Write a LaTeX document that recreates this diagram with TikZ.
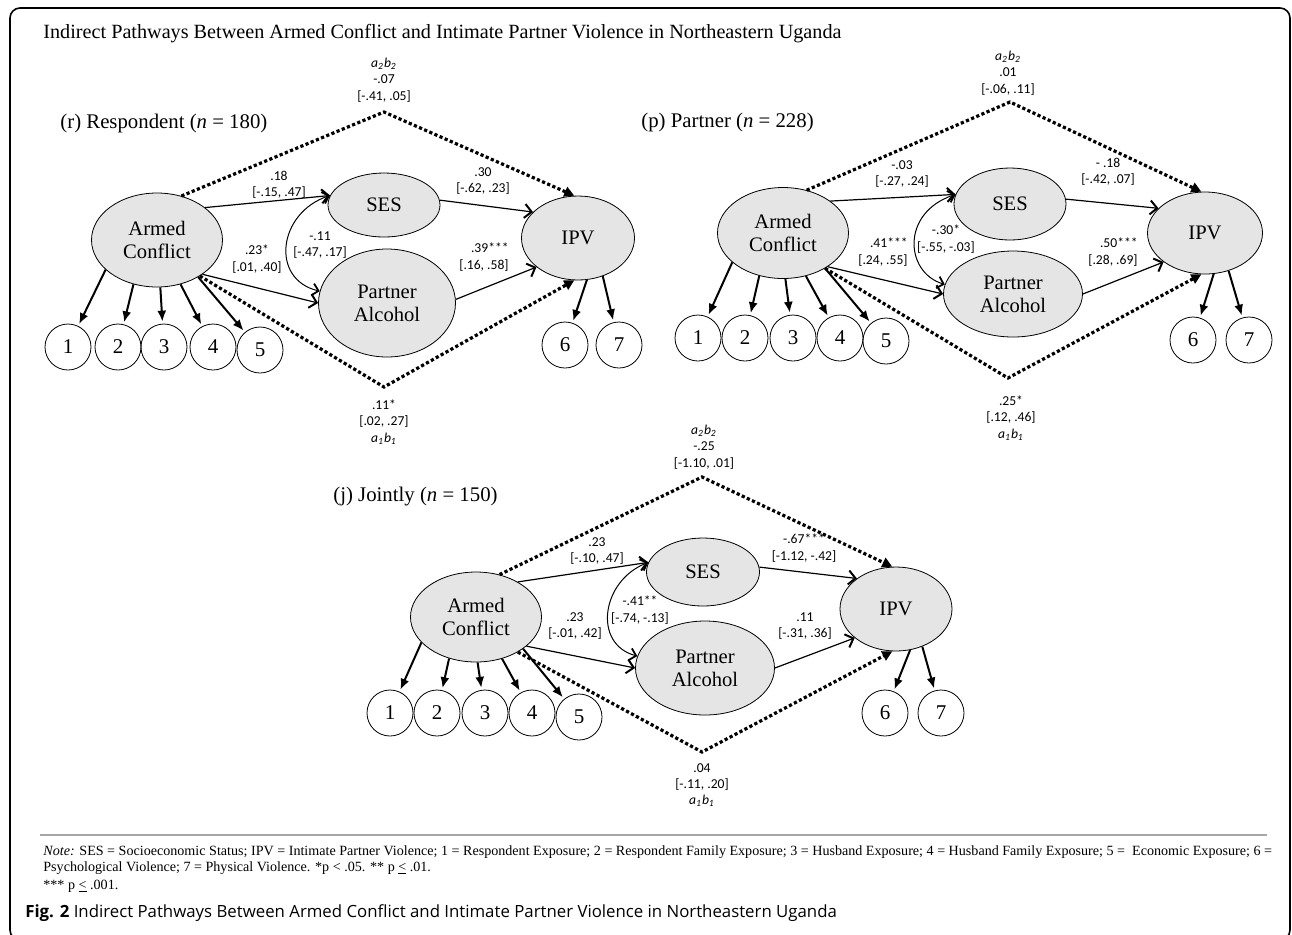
\documentclass[tikz,border=0pt]{standalone}
\usepackage{fontspec}
\setmainfont{Liberation Serif}
\newfontfamily\lblfont{Carlito}
\newfontfamily\capfont{Open Sans}
\usetikzlibrary{shapes.geometric,arrows.meta}

\begin{document}
\begin{tikzpicture}[x=0.5pt, y=-0.5pt, >={Latex},
  latent/.style={ellipse, draw, fill=gray!20, inner sep=0pt, align=center, font=\fontsize{10.3}{11.5}\selectfont},
  ind/.style={circle, draw, inner sep=0pt, minimum size=23pt, font=\fontsize{10.5}{12}\selectfont},
  lbl/.style={font=\lblfont\fontsize{6.8}{8.2}\selectfont, align=center, inner sep=0pt},
  ptitle/.style={font=\fontsize{10.4}{12}\selectfont, inner sep=0pt},
  effect/.style={line width=0.6pt, -{Straight Barb[length=3.5pt,width=7pt,line width=1pt]}},
  covar/.style={line width=0.5pt, {Straight Barb[length=3pt,width=6pt,line width=0.9pt]}-{Straight Barb[length=3pt,width=6pt,line width=0.9pt]}},
  load/.style={line width=1pt, -{Latex[length=5.5pt,width=4.5pt]}, shorten >=1pt},
  indirect/.style={line width=1.6pt, dash pattern=on 1.6pt off 1.2pt, -{Triangle[length=5pt,width=5pt]}}]
  \useasboundingbox (0,0) rectangle (1292,934);

  % Frame and heading
  \draw[line width=0.8pt, rounded corners=5pt] (10,8) rectangle (1290,940);
  \node[anchor=base west, inner sep=0pt, font=\fontsize{10.1}{12}\selectfont] (title) at (43,38)
    {Indirect Pathways Between Armed Conflict and Intimate Partner Violence in Northeastern Uganda};

  % (r) Respondent
  \node[ptitle, anchor=base west] (rTitle) at (60,128) {(r) Respondent (\textit{n} = 180)};
  \node[latent, minimum width=65.5pt, minimum height=47pt] (rAC) at (157,240) {Armed\\Conflict};
  \node[latent, minimum width=56pt, minimum height=32pt] (rSES) at (384,205) {SES};
  \node[latent, minimum width=68.5pt, minimum height=54pt] (rPA) at (387,303) {Partner\\Alcohol};
  \node[latent, minimum width=56.5pt, minimum height=42pt] (rIPV) at (578,238) {IPV};
  \foreach \i/\x in {1/68,2/118,3/164,4/213}
    \node[ind] (r\i) at (\x,347) {\i};
  \node[ind] (r5) at (260,350) {5};
  \node[ind] (r6) at (565,345) {6};
  \node[ind] (r7) at (619,345) {7};
  \coordinate (rTop) at (384,112);
  \coordinate (rBot) at (384,387);

  \draw[indirect] (rAC.61) -- (rTop) -- (rIPV.95);
  \draw[indirect] (rAC.-40) -- (rBot) -- (rIPV.-95);
  \draw[effect] (rAC.34) -- (rSES.170);
  \draw[effect] (rAC.-37) -- (rPA.west);
  \draw[effect] (rSES.5) -- (rIPV.150);
  \draw[effect] (rPA.3) -- (rIPV.-145);
  \draw[covar] (rSES.170) .. controls +(-52,17) and +(-50,-12) .. (rPA.170);
  \foreach \i/\a in {1/-150,2/-118,3/-86,4/-62,5/-42}
    \draw[load] (rAC.\a) -- (r\i);
  \draw[load] (rIPV.-78) -- (r6);
  \draw[load] (rIPV.-57) -- (r7);

  \node[lbl] (rTopLbl) at (384,80) {\textit{a\textsubscript{2}b\textsubscript{2}}\\-.07\\{}[-.41, .05]};
  \node[lbl] (rBotLbl) at (384,422) {.11*\\{}[.02, .27]\\\textit{a\textsubscript{1}b\textsubscript{1}}};
  \node[lbl] (rLa1) at (279,185) {.18\\{}[-.15, .47]};
  \node[lbl] (rLb1) at (483,181) {.30\\{}[-.62, .23]};
  \node[lbl] (rLa2) at (257,259) {.23*\\{}[.01, .40]};
  \node[lbl] (rCov) at (320,245) {-.11\\{}[-.47, .17]};
  \node[lbl, align=right, anchor=east] (rLb2) at (509,257) {.39***\\{}[.16, .58]};

  % (p) Partner
  \node[ptitle, anchor=base west] (pTitle) at (641,127) {(p) Partner (\textit{n} = 228)};
  \node[latent, minimum width=65.5pt, minimum height=45.5pt] (pAC) at (783,233) {Armed\\Conflict};
  \node[latent, minimum width=56pt, minimum height=36pt] (pSES) at (1010,204) {SES};
  \node[latent, minimum width=69.5pt, minimum height=43pt] (pPA) at (1013,294) {Partner\\Alcohol};
  \node[latent, minimum width=57.5pt, minimum height=41pt] (pIPV) at (1205,233) {IPV};
  \foreach \i/\x in {1/698,2/745,3/793,4/840}
    \node[ind] (p\i) at (\x,338) {\i};
  \node[ind] (p5) at (886,341) {5};
  \node[ind] (p6) at (1193,340) {6};
  \node[ind] (p7) at (1249,340) {7};
  \coordinate (pTop) at (1010,102);
  \coordinate (pBot) at (1008,378);

  \draw[indirect] (pAC.61) -- (pTop) -- (pIPV.95);
  \draw[indirect] (pAC.-40) -- (pBot) -- (pIPV.-95);
  \draw[effect] (pAC.34) -- (pSES.170);
  \draw[effect] (pAC.-37) -- (pPA.west);
  \draw[effect] (pSES.5) -- (pIPV.152);
  \draw[effect] (pPA.east) -- (pIPV.-145);
  \draw[covar] (pSES.170) .. controls +(-55,18) and +(-40,-12) .. (pPA.172);
  \foreach \i/\a in {1/-150,2/-119,3/-87,4/-62,5/-40}
    \draw[load] (pAC.\a) -- (p\i);
  \draw[load] (pIPV.-78) -- (p6);
  \draw[load] (pIPV.-58) -- (p7);

  \node[lbl] (pTopLbl) at (1008,73) {\textit{a\textsubscript{2}b\textsubscript{2}}\\.01\\{}[-.06, .11]};
  \node[lbl] (pBotLbl) at (1011,418) {.25*\\{}[.12, .46]\\\textit{a\textsubscript{1}b\textsubscript{1}}};
  \node[lbl] (pLa1) at (902,174) {-.03\\{}[-.27, .24]};
  \node[lbl] (pLb1) at (1108,172) {- .18\\{}[-.42, .07]};
  \node[lbl] (pCov) at (946,239) {-.30*\\{}[-.55, -.03]};
  \node[lbl, align=right, anchor=east] (pLa2) at (908,252) {.41***\\{}[.24, .55]};
  \node[lbl, align=right, anchor=east] (pLb2) at (1138,252) {.50***\\{}[.28, .69]};

  % (j) Jointly
  \node[ptitle, anchor=base east] (jTitle) at (498,501) {(j) Jointly (\textit{n} = 150)};
  \node[latent, minimum width=65.5pt, minimum height=45pt] (jAC) at (476,617) {Armed\\Conflict};
  \node[latent, minimum width=56.5pt, minimum height=34pt] (jSES) at (703,572) {SES};
  \node[latent, minimum width=69.5pt, minimum height=47pt] (jPA) at (705,668) {Partner\\Alcohol};
  \node[latent, minimum width=56pt, minimum height=42pt] (jIPV) at (896,609) {IPV};
  \foreach \i/\x in {1/390,2/437,3/485,4/532}
    \node[ind] (j\i) at (\x,713) {\i};
  \node[ind] (j5) at (579,717) {5};
  \node[ind] (j6) at (885,713) {6};
  \node[ind] (j7) at (941,713) {7};
  \coordinate (jTop) at (702,477);
  \coordinate (jBot) at (702,752);

  \draw[indirect] (jAC.61) -- (jTop) -- (jIPV.95);
  \draw[indirect] (jAC.-40) -- (jBot) -- (jIPV.-95);
  \draw[effect] (jAC.40) -- (jSES.170);
  \draw[effect] (jAC.-30) -- (jPA.west);
  \draw[effect] (jSES.5) -- (jIPV.142);
  \draw[effect] (jPA.east) -- (jIPV.-145);
  \draw[covar] (jSES.170) .. controls +(-47,18) and +(-45,-12) .. (jPA.170);
  \foreach \i/\a in {1/-155,2/-123,3/-88,4/-58,5/-34}
    \draw[load] (jAC.\a) -- (j\i);
  \draw[load] (jIPV.-71) -- (j6);
  \draw[load] (jIPV.-55) -- (j7);

  \node[lbl] (jTopLbl) at (704,447) {\textit{a\textsubscript{2}b\textsubscript{2}}\\-.25\\{}[-1.10, .01]};
  \node[lbl] (jBotLbl) at (702,785) {.04\\{}[-.11, .20]\\\textit{a\textsubscript{1}b\textsubscript{1}}};
  \node[lbl] (jLa1) at (597,551) {.23\\{}[-.10, .47]};
  \node[lbl] (jLb1) at (804,548) {-.67***\\{}[-1.12, -.42]};
  \node[lbl] (jCov) at (640,610) {-.41**\\{}[-.74, -.13]};
  \node[lbl] (jLa2) at (575,626) {.23\\{}[-.01, .42]};
  \node[lbl] (jLb2) at (805,626) {.11\\{}[-.31, .36]};

  % Note and caption
  \draw[line width=1pt, gray!70] (40,835) -- (1267,835);
  \node[anchor=base west, inner sep=0pt, font=\fontsize{7.05}{8}\selectfont] (note1) at (43,855)
    {\textit{Note:} SES = Socioeconomic Status; IPV = Intimate Partner Violence; 1 = Respondent Exposure; 2 = Respondent Family Exposure; 3 = Husband Exposure; 4 = Husband Family Exposure; 5 =\ \ Economic Exposure; 6 =};
  \node[anchor=base west, inner sep=0pt, font=\fontsize{7.05}{8}\selectfont] (note2) at (43,871)
    {Psychological Violence; 7 = Physical Violence. *p {\textless} .05. ** p \underline{\textless} .01.};
  \node[anchor=base west, inner sep=0pt, font=\fontsize{7.05}{8}\selectfont] (note3) at (43,889)
    {*** p \underline{\textless} .001.};
  \node[anchor=base west, inner sep=0pt, font=\capfont\fontsize{8.4}{10}\selectfont] (caption) at (25,917)
    {\textbf{Fig. 2} Indirect Pathways Between Armed Conflict and Intimate Partner Violence in Northeastern Uganda};
\end{tikzpicture}
\end{document}
